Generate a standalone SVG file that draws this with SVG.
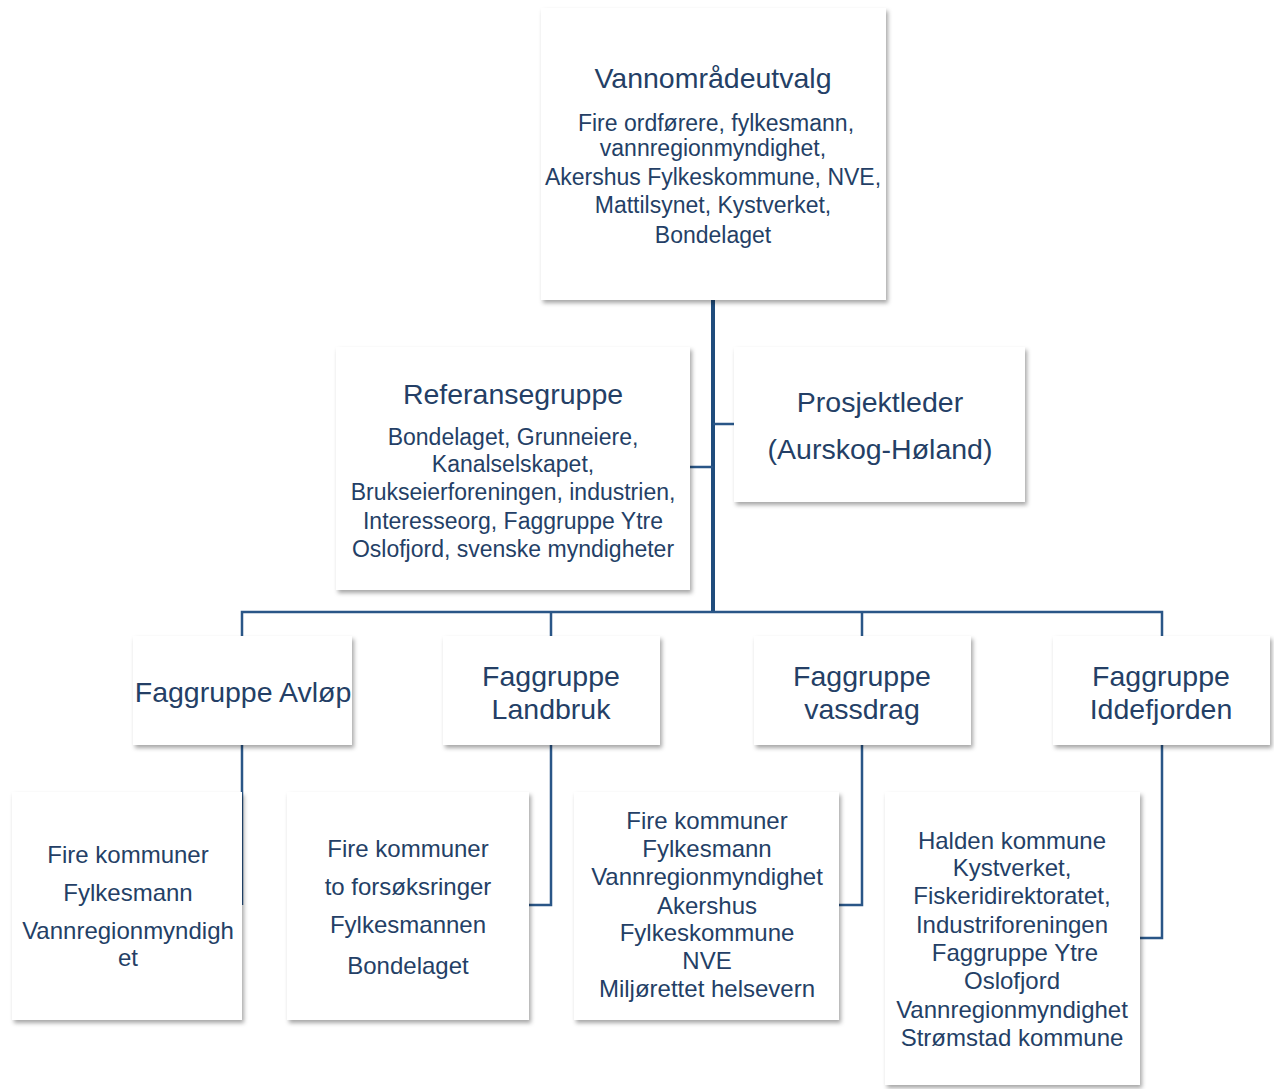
<svg xmlns="http://www.w3.org/2000/svg" width="1274" height="1089" viewBox="0 0 1274 1089">
<style>
.box{fill:#ffffff;filter:url(#sh)}
text{font-family:"Liberation Sans",Arial,sans-serif;fill:#243f66;text-anchor:middle}
.t{font-size:28.5px}
.s{font-size:23px}
.b{font-size:24px}
.ln{fill:none;stroke:#2a5687;stroke-width:2.5}
.tr{fill:none;stroke:#1f4c7c;stroke-width:4}
</style>
<defs>
<filter id="sh" x="-10%" y="-10%" width="125%" height="125%">
<feDropShadow dx="2" dy="3" stdDeviation="2" flood-color="#000" flood-opacity="0.35"/>
</filter>
</defs>
<rect width="1274" height="1089" fill="#ffffff"/>
<g id="connectors">
<path class="tr" d="M713 300V612"/>
<path class="ln" d="M690 467H713M713 424H734"/>
<path class="ln" d="M242 636V612H1162V636M551 612V636M862 612V636"/>
<path class="ln" d="M242 745V905"/>
<path class="ln" d="M551 745V905H529"/>
<path class="ln" d="M862 745V905H839"/>
<path class="ln" d="M1162 745V938H1140"/>
</g>
<g id="vannomradeutvalg">
<rect class="box" x="541" y="8" width="345" height="292"/>
<text class="t" x="713" y="88">Vannområdeutvalg</text>
<text class="s" x="716" y="131">Fire ordførere, fylkesmann,</text>
<text class="s" x="713" y="156">vannregionmyndighet,</text>
<text class="s" x="713" y="185">Akershus Fylkeskommune, NVE,</text>
<text class="s" x="713" y="213">Mattilsynet, Kystverket,</text>
<text class="s" x="713" y="243">Bondelaget</text>
</g>
<g id="referansegruppe">
<rect class="box" x="336" y="347" width="354" height="243"/>
<text class="t" x="513" y="404">Referansegruppe</text>
<text class="s" x="513" y="445">Bondelaget, Grunneiere,</text>
<text class="s" x="513" y="472">Kanalselskapet,</text>
<text class="s" x="513" y="500">Brukseierforeningen, industrien,</text>
<text class="s" x="513" y="529">Interesseorg, Faggruppe Ytre</text>
<text class="s" x="513" y="557">Oslofjord, svenske myndigheter</text>
</g>
<g id="prosjektleder">
<rect class="box" x="734" y="347" width="291" height="155"/>
<text class="t" x="880" y="412">Prosjektleder</text>
<text class="t" x="880" y="459">(Aurskog-Høland)</text>
</g>
<g id="faggruppe-avlop">
<rect class="box" x="133" y="636" width="219" height="109"/>
<text class="t" x="243" y="702">Faggruppe Avløp</text>
</g>
<g id="faggruppe-landbruk">
<rect class="box" x="443" y="636" width="217" height="109"/>
<text class="t" x="551" y="686">Faggruppe</text>
<text class="t" x="551" y="719">Landbruk</text>
</g>
<g id="faggruppe-vassdrag">
<rect class="box" x="754" y="636" width="217" height="109"/>
<text class="t" x="862" y="686">Faggruppe</text>
<text class="t" x="862" y="719">vassdrag</text>
</g>
<g id="faggruppe-iddefjorden">
<rect class="box" x="1053" y="636" width="217" height="109"/>
<text class="t" x="1161" y="686">Faggruppe</text>
<text class="t" x="1161" y="719">Iddefjorden</text>
</g>
<g id="avlop-medlemmer">
<rect class="box" x="12" y="792" width="230" height="228"/>
<text class="b" x="128" y="863">Fire kommuner</text>
<text class="b" x="128" y="901">Fylkesmann</text>
<text class="b" x="128" y="939">Vannregionmyndigh</text>
<text class="b" x="128" y="966">et</text>
</g>
<g id="landbruk-medlemmer">
<rect class="box" x="287" y="792" width="242" height="228"/>
<text class="b" x="408" y="857">Fire kommuner</text>
<text class="b" x="408" y="895">to forsøksringer</text>
<text class="b" x="408" y="933">Fylkesmannen</text>
<text class="b" x="408" y="974">Bondelaget</text>
</g>
<g id="vassdrag-medlemmer">
<rect class="box" x="574" y="792" width="265" height="228"/>
<text class="b" x="707" y="829">Fire kommuner</text>
<text class="b" x="707" y="857">Fylkesmann</text>
<text class="b" x="707" y="885">Vannregionmyndighet</text>
<text class="b" x="707" y="914">Akershus</text>
<text class="b" x="707" y="941">Fylkeskommune</text>
<text class="b" x="707" y="969">NVE</text>
<text class="b" x="707" y="997">Miljørettet helsevern</text>
</g>
<g id="iddefjorden-medlemmer">
<rect class="box" x="885" y="792" width="255" height="293"/>
<text class="b" x="1012" y="849">Halden kommune</text>
<text class="b" x="1012" y="876">Kystverket,</text>
<text class="b" x="1012" y="904">Fiskeridirektoratet,</text>
<text class="b" x="1012" y="933">Industriforeningen</text>
<text class="b" x="1015" y="961">Faggruppe Ytre</text>
<text class="b" x="1012" y="989">Oslofjord</text>
<text class="b" x="1012" y="1018">Vannregionmyndighet</text>
<text class="b" x="1012" y="1046">Strømstad kommune</text>
</g>
</svg>
